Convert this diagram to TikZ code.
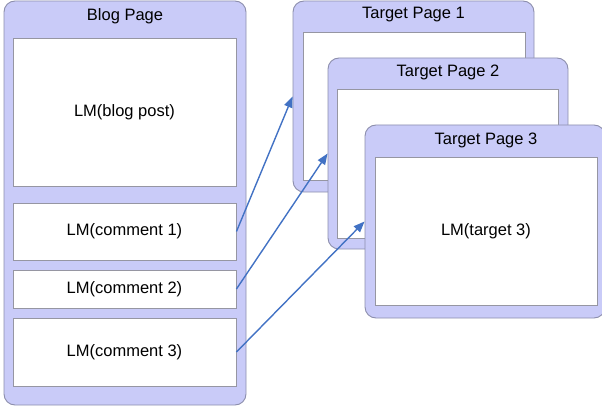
\documentclass[tikz,border=0pt]{standalone}
\usepackage{fontspec}
\setmainfont{Liberation Sans}
\usetikzlibrary{arrows.meta}
\definecolor{pagefill}{RGB}{201,203,248}
\definecolor{pageline}{RGB}{140,142,172}
\definecolor{boxline}{RGB}{150,150,162}
\definecolor{linkblue}{RGB}{66,114,196}
\begin{document}
\begin{tikzpicture}[x=1pt,y=-1pt,
  page/.style={draw=pageline,fill=pagefill,line width=0.9pt,rounded corners=11pt,
    inner sep=0pt,minimum width=#1},
  pagebox/.style={draw=boxline,fill=white,line width=0.9pt,inner sep=0pt},
  pagetitle/.style={font=\fontsize{16.5}{19}\selectfont,inner sep=0pt},
  boxtext/.style={font=\fontsize{16.5}{19}\selectfont},
  link/.style={draw=linkblue,line width=1.4pt,-{Triangle[length=11pt,width=8.5pt]}}]
\useasboundingbox (0,0) rectangle (602,409);
\begin{scope}
\clip (0,0) rectangle (602,409);
% blog page with its post and comments
\node[page=242pt,minimum height=404pt] (blog) at (125,203) {};
\node[pagetitle] (blogtitle) at (125,16) {Blog Page};
\node[pagebox,minimum width=223pt,minimum height=148pt,boxtext] (post) at (124.5,112) {LM(blog post)};
\node[pagebox,minimum width=223pt,minimum height=57pt,boxtext] (c1) at (124.5,231.5) {LM(comment 1)};
\node[pagebox,minimum width=223pt,minimum height=38pt,boxtext] (c2) at (124.5,289) {LM(comment 2)};
\node[pagebox,minimum width=223pt,minimum height=68pt,boxtext] (c3) at (124.5,352) {LM(comment 3)};
% stacked target pages
\node[page=241pt,minimum height=191pt] (t1) at (413.5,96.5) {};
\node[pagetitle] (t1title) at (413.5,15) {Target Page 1};
\node[pagebox,minimum width=222pt,minimum height=148pt] (t1box) at (414,106) {};
\node[page=240pt,minimum height=191pt] (t2) at (448,153.5) {};
\node[pagetitle] (t2title) at (448,72) {Target Page 2};
\node[pagebox,minimum width=221pt,minimum height=149pt] (t2box) at (447.5,163.5) {};
\node[page=240pt,minimum height=193pt] (t3) at (485,221.5) {};
\node[pagetitle] (t3title) at (486,140) {Target Page 3};
\node[pagebox,minimum width=222pt,minimum height=148pt,boxtext] (t3box) at (486,231) {LM(target 3)};
% links from comments to targets
\draw[link] (c1.east) -- (t1.west);
\draw[link] (c2.east) -- (t2.west);
\draw[link] (c3.east) -- (t3.west);
\end{scope}
\end{tikzpicture}
\end{document}
